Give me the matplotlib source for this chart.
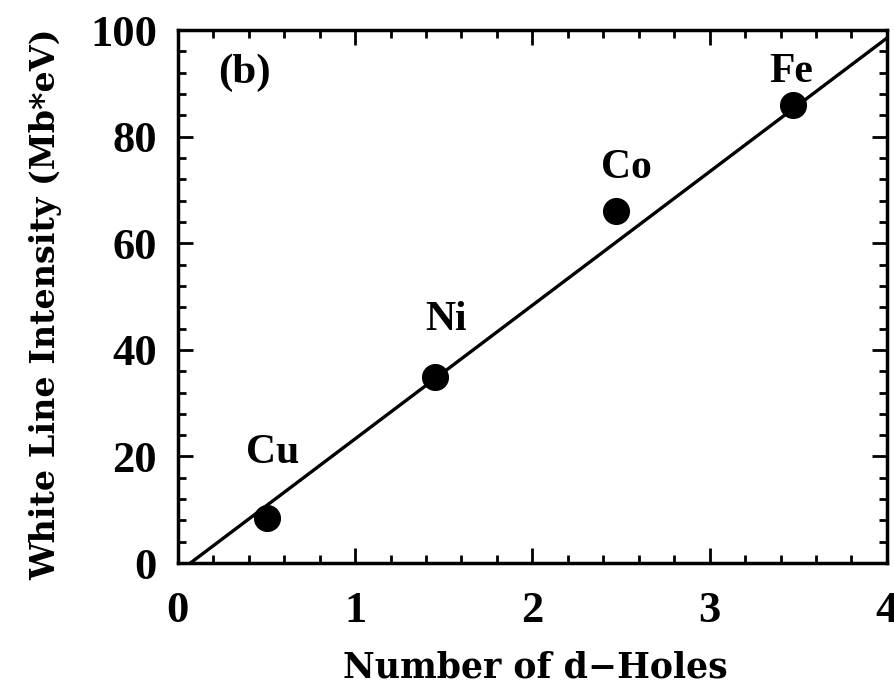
import matplotlib
matplotlib.use("Agg")
import matplotlib.pyplot as plt
from matplotlib.ticker import MultipleLocator

# data
elements = ["Cu", "Ni", "Co", "Fe"]
d_holes = [0.5, 1.45, 2.47, 3.47]
intensity = [8.5, 35.0, 66.0, 86.0]
fit_x = [0.07, 4.0]
fit_y = [0.0, 98.5]
label_x = [0.536, 1.512, 2.533, 3.458]
label_y = [18.8, 43.7, 72.2, 90.2]

plt.rcParams['font.family'] = ['Liberation Serif', 'DejaVu Serif']
plt.rcParams['font.weight'] = 'bold'

fig = plt.figure(figsize=(8.94, 6.85), dpi=100)
ax = fig.add_axes([0.199, 0.178, 0.793, 0.778])

ax.plot(fit_x, fit_y, color='black', lw=2.4, solid_capstyle='butt')
ax.plot(d_holes, intensity, 'o', color='black', markersize=18.5)

for el, lx, ly in zip(elements, label_x, label_y):
    ax.text(lx, ly, el, ha='center', va='baseline', fontsize=30, fontweight='bold')
ax.text(0.378, 90.0, "(b)", ha='center', va='baseline', fontsize=31, fontweight='bold')

ax.set_xlim(0, 4)
ax.set_ylim(0, 100)
ax.xaxis.set_major_locator(MultipleLocator(1))
ax.xaxis.set_minor_locator(MultipleLocator(0.2))
ax.yaxis.set_major_locator(MultipleLocator(20))
ax.yaxis.set_minor_locator(MultipleLocator(4))
ax.tick_params(which='both', direction='in', top=True, right=True, width=2)
ax.tick_params(which='major', length=11, labelsize=32)
ax.tick_params(axis='x', which='major', pad=20)
ax.tick_params(axis='y', which='major', pad=15)
ax.tick_params(which='minor', length=6)
for lab in ax.get_xticklabels() + ax.get_yticklabels():
    lab.set_fontweight('bold')
for s in ax.spines.values():
    s.set_linewidth(2.5)

ax.set_xlabel("Number of d\u2212Holes", fontsize=25, fontweight='bold',
              family='DejaVu Serif', va='baseline')
ax.xaxis.set_label_coords(0.504, -0.214)
ax.set_ylabel("White Line Intensity (Mb*eV)", fontsize=24, fontweight='bold',
              family='DejaVu Serif')
ax.yaxis.set_label_coords(-0.1636, 0.486)

fig.savefig("out.png", dpi=100)
